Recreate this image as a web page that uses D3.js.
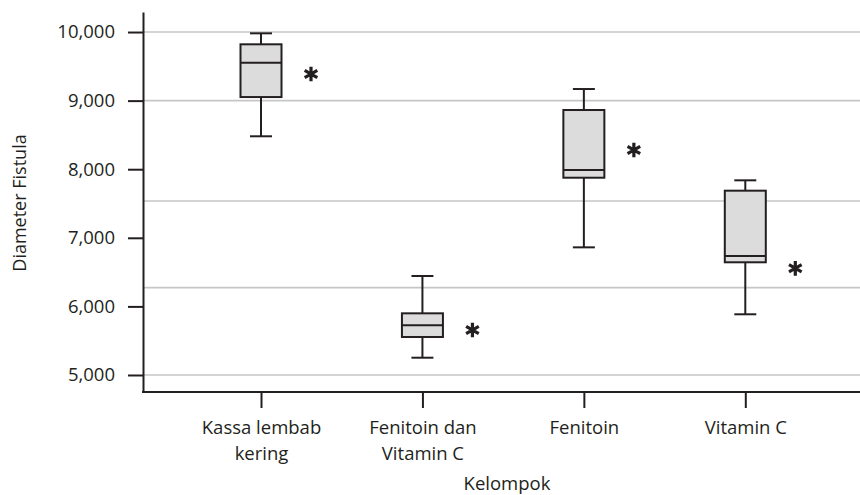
<!DOCTYPE html>
<html>
<head>
<meta charset="utf-8">
<script src="https://cdn.jsdelivr.net/npm/d3@7"></script>
<style>
  html, body { margin: 0; padding: 0; background: #fff; }
  svg { display: block; }
  text { font-family: "Open Sans", sans-serif; fill: #231f20; }
</style>
</head>
<body>
<svg id="chart" width="860" height="495"></svg>
<script>
// Groups (line breaks mark the wrapped tick labels)
const categories = ["Kassa lembab\nkering", "Fenitoin dan\nVitamin C", "Fenitoin", "Vitamin C"];
// Five-number summary per group
const whiskerLow  = [8480, 5252, 6861, 5885];
const q1          = [9052, 5554, 7876, 6643];
const median      = [9552, 5724, 7988, 6735];
const q3          = [9821, 5899, 8863, 7687];
const whiskerHigh = [9981, 6443, 9169, 7838];
// Significance markers (*) next to each box
const markerValues = [9388, 5656, 8280, 6555];
// Axis ticks and horizontal reference lines
const yTicks = [5000, 6000, 7000, 8000, 9000, 10000];
const gridValues = [5000, 6273, 7536, 9000, 10000];

const svg = d3.select("#chart");
const axisX0 = 143, axisX1 = 860, axisY0 = 392, axisTop = 12;

const x = d3.scalePoint().domain(categories).range([261, 745.3]);
const y = d3.scaleLinear().domain([4752, 10292]).range([axisY0, axisTop]);

const boxW = 41, capW = 22, ink = "#231f20";

// Horizontal reference lines
svg.append("g").selectAll("line").data(gridValues).join("line")
  .attr("x1", axisX0).attr("x2", axisX1)
  .attr("y1", d => y(d)).attr("y2", d => y(d))
  .attr("stroke", "#c6c6c6").attr("stroke-width", 1.6);

// Y axis
const yAxis = svg.append("g").attr("transform", `translate(${axisX0},0)`)
  .call(d3.axisLeft(y).tickValues(yTicks).tickFormat(d3.format(","))
    .tickSize(15).tickSizeOuter(0).tickPadding(13));
yAxis.select(".domain").attr("stroke", ink).attr("stroke-width", 2);
yAxis.selectAll(".tick line").attr("stroke", ink).attr("stroke-width", 2);
yAxis.selectAll(".tick text").style("font-size", "18.5px")
  .style("font-family", "'Open Sans', sans-serif").attr("fill", ink);

// X axis
const xAxis = svg.append("g").attr("transform", `translate(0,${axisY0})`)
  .call(d3.axisBottom(x).tickSize(16).tickSizeOuter(0).tickPadding(0).tickFormat(""));
xAxis.select(".domain").remove();
xAxis.selectAll(".tick line").attr("stroke", ink).attr("stroke-width", 2);
xAxis.append("line").attr("x1", axisX0 - 1).attr("x2", axisX1).attr("y1", 0).attr("y2", 0)
  .attr("stroke", ink).attr("stroke-width", 2);
xAxis.selectAll(".tick").each(function(d) {
  const t = d3.select(this).append("text")
    .attr("text-anchor", "middle").attr("y", 42)
    .style("font-size", "18.5px").attr("fill", ink);
  d.split("\n").forEach((line, i) => {
    t.append("tspan").attr("x", 0).attr("dy", i === 0 ? 0 : 26).text(line);
  });
});

// Axis titles
svg.append("text").attr("x", 507).attr("y", 490)
  .attr("text-anchor", "middle").style("font-size", "18.5px").text("Kelompok");
svg.append("text").attr("transform", "translate(26,203) rotate(-90)")
  .attr("text-anchor", "middle").style("font-size", "18px").text("Diameter Fistula");

// Box plots
const rows = categories.map((c, i) => ({
  c, lo: whiskerLow[i], q1: q1[i], med: median[i], q3: q3[i], hi: whiskerHigh[i], mark: markerValues[i]
}));
const g = svg.append("g").selectAll("g").data(rows).join("g")
  .attr("transform", d => `translate(${x(d.c)},0)`);

g.append("line").attr("x1", 0).attr("x2", 0)
  .attr("y1", d => y(d.hi)).attr("y2", d => y(d.q3))
  .attr("stroke", ink).attr("stroke-width", 2);
g.append("line").attr("x1", 0).attr("x2", 0)
  .attr("y1", d => y(d.q1)).attr("y2", d => y(d.lo))
  .attr("stroke", ink).attr("stroke-width", 2);
g.append("line").attr("x1", -capW / 2).attr("x2", capW / 2)
  .attr("y1", d => y(d.hi)).attr("y2", d => y(d.hi))
  .attr("stroke", ink).attr("stroke-width", 2);
g.append("line").attr("x1", -capW / 2).attr("x2", capW / 2)
  .attr("y1", d => y(d.lo)).attr("y2", d => y(d.lo))
  .attr("stroke", ink).attr("stroke-width", 2);
g.append("rect").attr("x", -boxW / 2).attr("width", boxW)
  .attr("y", d => y(d.q3)).attr("height", d => y(d.q1) - y(d.q3))
  .attr("fill", "#dcdcdc").attr("stroke", ink).attr("stroke-width", 2);
g.append("line").attr("x1", -boxW / 2).attr("x2", boxW / 2)
  .attr("y1", d => y(d.med)).attr("y2", d => y(d.med))
  .attr("stroke", ink).attr("stroke-width", 2);

// Asterisk markers, centred on their value
const star = d3.symbol(d3.symbolAsterisk, 150);
g.append("path")
  .attr("transform", d => `translate(50,${y(d.mark)})`)
  .attr("d", star)
  .attr("fill", "none").attr("stroke", ink).attr("stroke-width", 3.2);
</script>
</body>
</html>
